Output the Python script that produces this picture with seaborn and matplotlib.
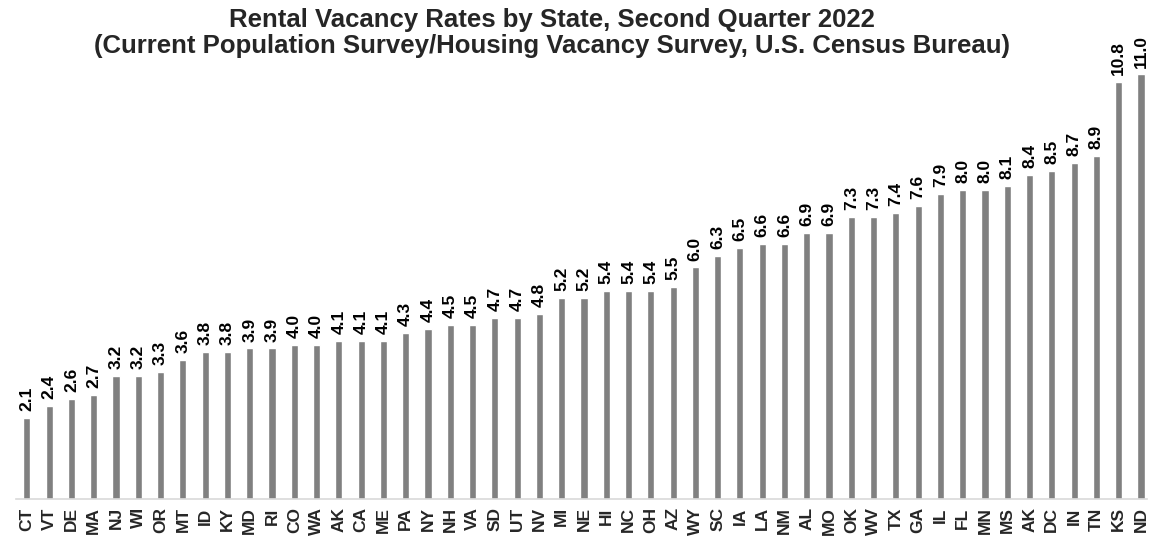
import matplotlib
matplotlib.use("Agg")
import matplotlib.pyplot as plt
import numpy as np
import pandas as pd
import seaborn as sns

states = ["CT", "VT", "DE", "MA", "NJ", "WI", "OR", "MT", "ID", "KY", "MD", "RI", "CO",
          "WA", "AK", "CA", "ME", "PA", "NY", "NH", "VA", "SD", "UT", "NV", "MI", "NE",
          "HI", "NC", "OH", "AZ", "WY", "SC", "IA", "LA", "NM", "AL", "MO", "OK", "WV",
          "TX", "GA", "IL", "FL", "MN", "MS", "AK", "DC", "IN", "TN", "KS", "ND"]
rates = [2.1, 2.4, 2.6, 2.7, 3.2, 3.2, 3.3, 3.6, 3.8, 3.8, 3.9, 3.9, 4.0,
         4.0, 4.1, 4.1, 4.1, 4.3, 4.4, 4.5, 4.5, 4.7, 4.7, 4.8, 5.2, 5.2,
         5.4, 5.4, 5.4, 5.5, 6.0, 6.3, 6.5, 6.6, 6.6, 6.9, 6.9, 7.3, 7.3,
         7.4, 7.6, 7.9, 8.0, 8.0, 8.1, 8.4, 8.5, 8.7, 8.9, 10.8, 11.0]

TITLE = ("Rental Vacancy Rates by State, Second Quarter 2022\n"
         "(Current Population Survey/Housing Vacancy Survey, U.S. Census Bureau)")

sns.set_theme(style="white")
plt.rcParams["font.family"] = ["Liberation Sans", "DejaVu Sans"]

# state codes repeat (AK twice), so bars are placed by position
df = pd.DataFrame({"pos": np.arange(len(states)), "rate": rates})

fig = plt.figure(figsize=(11.62, 5.48), dpi=100)
ax = fig.add_axes([16 / 1162, 49 / 548, (1147 - 16) / 1162, 499 / 548])

sns.barplot(data=df, x="pos", y="rate", color="#808080", saturation=1,
            width=0.32, ax=ax)

ax.bar_label(ax.containers[0], fmt="%.1f", rotation=90, padding=5,
             fontsize=12.5, fontweight="bold", color="black")

ax.set_xticks(np.arange(len(states)))
ax.set_xticklabels(states, rotation=90, fontsize=12.5, fontweight="bold")
ax.tick_params(axis="x", length=0, pad=6)
ax.set_yticks([])
ax.set_xlim(-0.49, len(states) - 1 + 0.27)
ax.set_ylim(0, 12.93)
ax.set_xlabel("")
ax.set_ylabel("")
for side in ["top", "right", "left"]:
    ax.spines[side].set_visible(False)
ax.spines["bottom"].set_color("#d9d9d9")
ax.spines["bottom"].set_linewidth(1.2)
ax.patch.set_alpha(0)

fig.text(552 / 1162, 1 - 33 / 548, TITLE, ha="center", va="center",
         fontsize=18.5, fontweight="bold", linespacing=1.12)

fig.savefig("out.png", dpi=100)
